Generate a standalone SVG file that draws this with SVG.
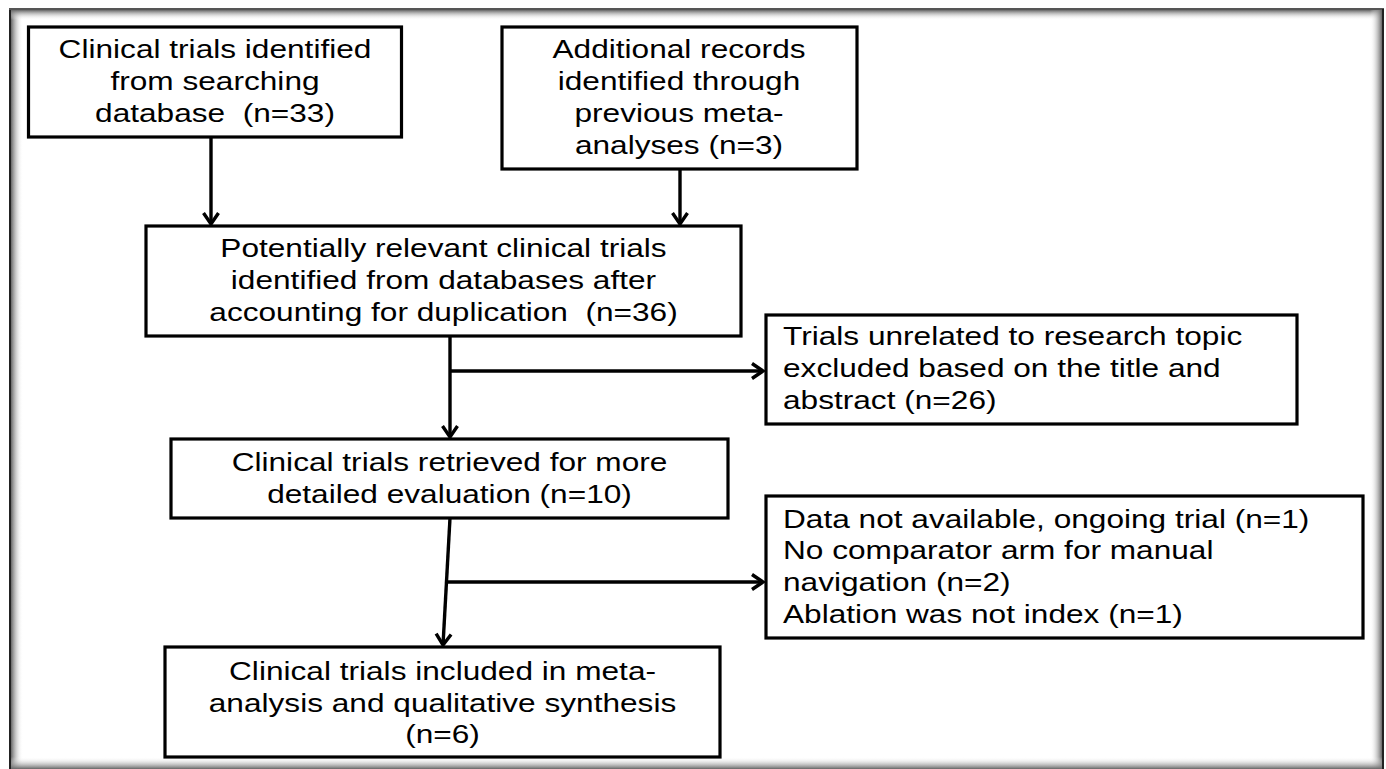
<svg xmlns="http://www.w3.org/2000/svg" width="1386" height="769" viewBox="0 0 1386 769">
<defs>
<style>
.box{fill:#fff;stroke:#000;stroke-width:3.2}
.t{font-family:"Liberation Sans",Arial,sans-serif;font-size:25.5px;fill:#000}
.c{text-anchor:middle}
.s{text-anchor:start}
.edge{fill:none;stroke:#000;stroke-width:3.4}
</style>
<marker id="arr" viewBox="-13 -10 15 20" refX="0" refY="0" markerWidth="15" markerHeight="20" markerUnits="userSpaceOnUse" orient="auto">
<path d="M-11,-7.5 L0,0 L-11,7.5" fill="none" stroke="#000" stroke-width="3.4"/>
</marker>
<linearGradient id="gL" x1="0" y1="0" x2="1" y2="0"><stop offset="0" stop-color="#666"/><stop offset="1" stop-color="#fff" stop-opacity="0"/></linearGradient>
<linearGradient id="gR" x1="1" y1="0" x2="0" y2="0"><stop offset="0" stop-color="#666"/><stop offset="1" stop-color="#fff" stop-opacity="0"/></linearGradient>
<linearGradient id="gT" x1="0" y1="0" x2="0" y2="1"><stop offset="0" stop-color="#666"/><stop offset="1" stop-color="#fff" stop-opacity="0"/></linearGradient>
<linearGradient id="gB" x1="0" y1="1" x2="0" y2="0"><stop offset="0" stop-color="#666"/><stop offset="1" stop-color="#fff" stop-opacity="0"/></linearGradient>
</defs>
<rect x="0" y="0" width="1386" height="769" fill="#fff"/>
<g id="frame">
<rect x="11" y="10" width="12" height="759" fill="url(#gL)"/>
<rect x="11" y="10" width="1371" height="10" fill="url(#gT)"/>
<rect x="1370" y="10" width="12" height="759" fill="url(#gR)"/>
<rect x="11" y="757" width="1371" height="12" fill="url(#gB)"/>
<line x1="10" y1="9" x2="10" y2="769" stroke="#222" stroke-width="2"/>
<line x1="9" y1="9" x2="1384" y2="9" stroke="#555" stroke-width="2"/>
<line x1="1383" y1="9" x2="1383" y2="769" stroke="#222" stroke-width="2"/>
</g>
<g id="connectors">
<line class="edge" x1="211" y1="137" x2="211" y2="224" marker-end="url(#arr)"/>
<line class="edge" x1="680" y1="169" x2="680" y2="224" marker-end="url(#arr)"/>
<line class="edge" x1="450" y1="336" x2="450" y2="437" marker-end="url(#arr)"/>
<line class="edge" x1="450" y1="371" x2="763" y2="371" marker-end="url(#arr)"/>
<line class="edge" x1="450" y1="518" x2="443" y2="645" marker-end="url(#arr)"/>
<line class="edge" x1="448" y1="582" x2="763" y2="582" marker-end="url(#arr)"/>
</g>
<g id="n1">
<rect class="box" x="28.5" y="27" width="373" height="110"/>
<g transform="translate(215,0) scale(1.24,1)">
<text class="t c" x="0" y="58">Clinical trials identified</text>
<text class="t c" x="0" y="90">from searching</text>
<text class="t c" x="0" y="122">database&#160; (n=33)</text>
</g>
</g>
<g id="n2">
<rect class="box" x="502" y="27" width="355" height="142"/>
<g transform="translate(679,0) scale(1.24,1)">
<text class="t c" x="0" y="58">Additional records</text>
<text class="t c" x="0" y="90">identified through</text>
<text class="t c" x="0" y="122">previous meta-</text>
<text class="t c" x="0" y="154">analyses (n=3)</text>
</g>
</g>
<g id="n3">
<rect class="box" x="146" y="226" width="595" height="110"/>
<g transform="translate(443.5,0) scale(1.24,1)">
<text class="t c" x="0" y="257">Potentially relevant clinical trials</text>
<text class="t c" x="0" y="289">identified from databases after</text>
<text class="t c" x="0" y="321">accounting for duplication&#160; (n=36)</text>
</g>
</g>
<g id="n4">
<rect class="box" x="766" y="315" width="531" height="109"/>
<g transform="translate(783,0) scale(1.24,1)">
<text class="t s" x="0" y="345">Trials unrelated to research topic</text>
<text class="t s" x="0" y="377">excluded based on the title and</text>
<text class="t s" x="0" y="409">abstract (n=26)</text>
</g>
</g>
<g id="n5">
<rect class="box" x="171" y="439" width="557" height="79"/>
<g transform="translate(449.5,0) scale(1.24,1)">
<text class="t c" x="0" y="471">Clinical trials retrieved for more</text>
<text class="t c" x="0" y="503">detailed evaluation (n=10)</text>
</g>
</g>
<g id="n6">
<rect class="box" x="766" y="496" width="597" height="142"/>
<g transform="translate(783,0) scale(1.24,1)">
<text class="t s" x="0" y="528">Data not available, ongoing trial (n=1)</text>
<text class="t s" x="0" y="559">No comparator arm for manual</text>
<text class="t s" x="0" y="591">navigation (n=2)</text>
<text class="t s" x="0" y="623">Ablation was not index (n=1)</text>
</g>
</g>
<g id="n7">
<rect class="box" x="165" y="647" width="555" height="110"/>
<g transform="translate(442.5,0) scale(1.24,1)">
<text class="t c" x="0" y="680">Clinical trials included in meta-</text>
<text class="t c" x="0" y="712">analysis and qualitative synthesis</text>
<text class="t c" x="0" y="743">(n=6)</text>
</g>
</g>
</svg>
